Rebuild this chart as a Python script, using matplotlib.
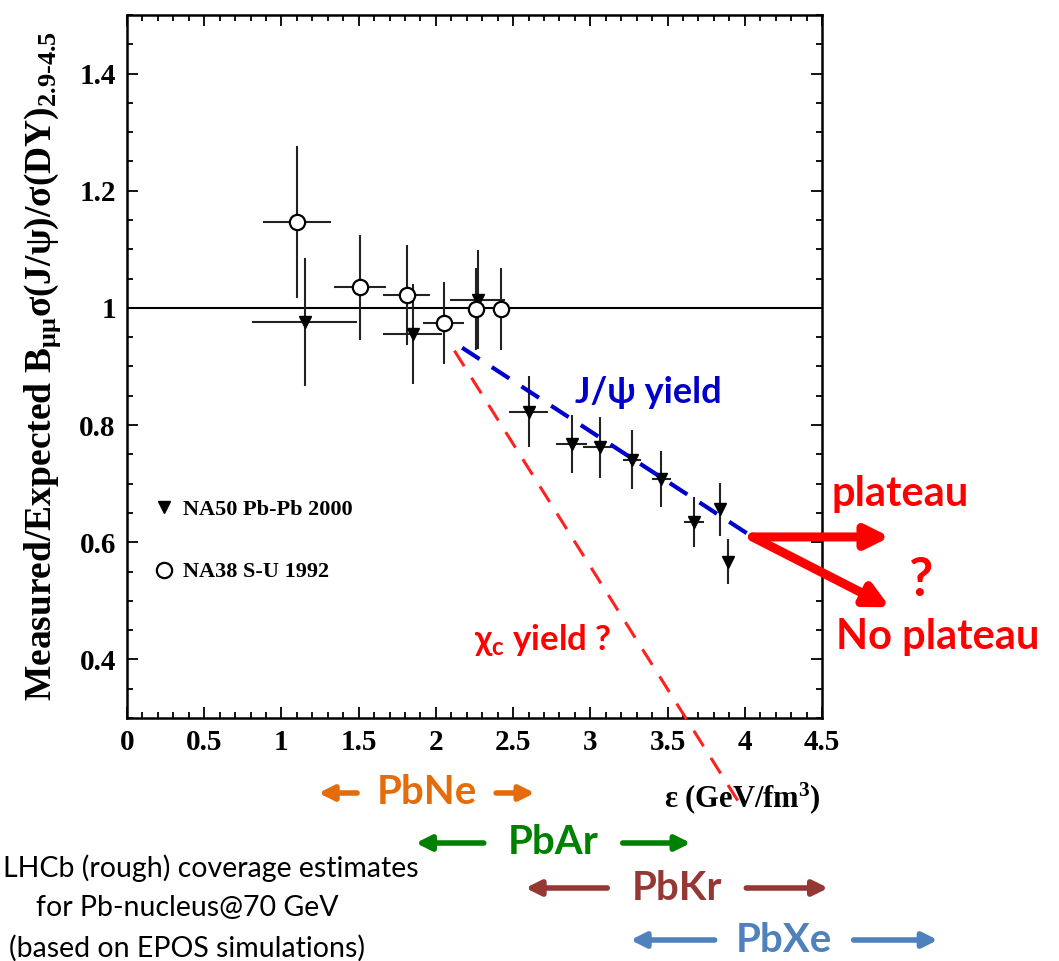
import matplotlib
matplotlib.use('Agg')
import matplotlib.pyplot as plt
import matplotlib.transforms as mtransforms
from matplotlib.ticker import MultipleLocator, FormatStrFormatter

plt.rcParams['mathtext.fontset'] = 'custom'
plt.rcParams['mathtext.rm'] = 'Liberation Serif:bold'
plt.rcParams['mathtext.bf'] = 'Liberation Serif:bold'
plt.rcParams['mathtext.it'] = 'Liberation Serif:bold'

# NA50 Pb-Pb 2000 (triangles)
na50_x = [1.15, 1.85, 2.27, 2.60, 2.88, 3.06, 3.27, 3.46, 3.67, 3.84, 3.89]
na50_y = [0.976, 0.955, 1.014, 0.823, 0.768, 0.762, 0.741, 0.708, 0.634, 0.656, 0.567]
na50_yerr = [0.11, 0.085, 0.085, 0.06, 0.05, 0.052, 0.05, 0.048, 0.043, 0.045, 0.038]
na50_xerr = [0.34, 0.19, 0.18, 0.125, 0.10, 0.11, 0.06, 0.06, 0.065, 0.0, 0.0]

# NA38 S-U 1992 (open circles)
na38_x = [1.10, 1.51, 1.81, 2.05, 2.26, 2.42]
na38_y = [1.147, 1.035, 1.022, 0.975, 0.998, 0.998]
na38_yerr = [0.13, 0.09, 0.085, 0.07, 0.07, 0.07]
na38_xerr = [0.22, 0.17, 0.15, 0.135, 0.0, 0.0]

# hand-drawn trend lines
jpsi_line_x = [2.17, 4.05]
jpsi_line_y = [0.932, 0.609]
chic_line_x = [2.12, 4.00]
chic_line_y = [0.927, 0.14]

# plateau / no plateau arrow ends
plateau_end = (4.94, 0.609)
noplateau_end = (4.94, 0.489)

# LHCb coverage ranges in epsilon
systems = ['PbNe', 'PbAr', 'PbKr', 'PbXe']
ranges = [(1.24, 2.64), (1.87, 3.65), (2.58, 4.54), (3.26, 5.25)]
sys_colors = ['#E46C0A', '#008000', '#953735', '#4F81BD']

fig = plt.figure(figsize=(10.59, 9.61), dpi=100)
ax = fig.add_axes([0.1199, 0.2529, 0.6563, 0.7315])

serif_b = dict(family='Liberation Serif', weight='bold')
sans = ['Lato', 'DejaVu Sans']

ax.axhline(1.0, color='black', lw=1.5, zorder=1)

ax.errorbar(na50_x, na50_y, yerr=na50_yerr, xerr=na50_xerr, fmt='none',
            ecolor='#222222', elinewidth=1.5, capsize=0, zorder=2)
ax.errorbar(na38_x, na38_y, yerr=na38_yerr, xerr=na38_xerr, fmt='none',
            ecolor='#222222', elinewidth=1.5, capsize=0, zorder=2)
ax.plot(na50_x, na50_y, 'v', color='black', ms=9, zorder=3, label='NA50 Pb-Pb 2000')
ax.plot(na38_x, na38_y, 'o', mfc='white', mec='black', mew=1.6, ms=11, zorder=3,
        label='NA38 S-U 1992')

ax.plot(jpsi_line_x, jpsi_line_y, color='#0000CC', lw=3, dashes=(5, 3.5), zorder=4)
ax.plot(chic_line_x, chic_line_y, color='#FF2020', lw=2.2, dashes=(6, 4.5), zorder=4,
        clip_on=False)

ax.text(3.375, 0.855, 'J/ψ yield', color='#0000CC', fontsize=26, weight='bold',
        family=sans, ha='center', va='center')
ax.text(2.69, 0.433, r'χ$_{\mathregular{c}}$ yield ?', color='#FF0000', fontsize=25,
        weight='bold', family=sans, ha='center', va='center')

# plateau arrows
for end in [plateau_end, noplateau_end]:
    ax.annotate('', xy=end, xytext=(jpsi_line_x[1], jpsi_line_y[1]),
                arrowprops=dict(arrowstyle='-|>', color='#FF0000', lw=6.5,
                                mutation_scale=34, shrinkA=0, shrinkB=0),
                annotation_clip=False)
ax.text(5.006, 0.682, 'plateau', color='#FF0000', fontsize=30, weight='bold',
        family=sans, ha='center', va='center')
ax.text(5.136, 0.535, '?', color='#FF0000', fontsize=38, weight='bold',
        family=sans, ha='center', va='center')
ax.text(5.246, 0.438, 'No plateau', color='#FF0000', fontsize=30, weight='bold',
        family=sans, ha='center', va='center')

ax.set_xlim(0, 4.5)
ax.set_ylim(0.3, 1.5)
ax.xaxis.set_major_locator(MultipleLocator(0.5))
ax.xaxis.set_minor_locator(MultipleLocator(0.1))
ax.yaxis.set_minor_locator(MultipleLocator(0.05))
ax.xaxis.set_major_formatter(FormatStrFormatter('%g'))
ax.yaxis.set_major_formatter(FormatStrFormatter('%g'))
ax.set_yticks([0.4, 0.6, 0.8, 1.0, 1.2, 1.4])
ax.tick_params(which='both', direction='in', top=True, right=True, width=1.3)
ax.tick_params(which='major', length=8, labelsize=21, pad=8)
ax.tick_params(which='minor', length=4)
for lab in ax.get_xticklabels() + ax.get_yticklabels():
    lab.set_fontfamily('Liberation Serif')
    lab.set_fontweight('bold')
for s in ax.spines.values():
    s.set_linewidth(1.8)

ax.set_ylabel(r'Measured/Expected B$_{\mathregular{\mu\mu}}$σ(J/ψ)/σ(DY)$_{\mathregular{2.9\text{-}4.5}}$',
              fontsize=27, **serif_b)
ax.yaxis.set_label_coords(-0.092, 0.5)
ax.set_xlabel(r'ε (GeV/fm$^{\mathregular{3}}$)', fontsize=22, **serif_b)
ax.xaxis.set_label_coords(0.885, -0.088)

ax.legend(loc='upper left', bbox_to_anchor=(0.01, 0.34), frameon=False,
          handlelength=0.9, handletextpad=0.4, labelspacing=1.9,
          prop=dict(family='Liberation Serif', weight='bold', size=16))

# coverage arrows below the axis
blend = mtransforms.blended_transform_factory(ax.transData, fig.transFigure)
ys = [1 - 793 / 961, 1 - 843 / 961, 1 - 888 / 961, 1 - 940 / 961]
gap = 0.45
for name, (lo, hi), c, y in zip(systems, ranges, sys_colors, ys):
    mid = (lo + hi) / 2
    ax.text(mid, y, name, transform=blend, color=c, fontsize=29, weight='bold',
            family=sans, ha='center', va='center')
    for inner, outer in [(mid - gap, lo), (mid + gap, hi)]:
        ax.annotate('', xy=(outer, y), xytext=(inner, y), xycoords=blend,
                    textcoords=blend,
                    arrowprops=dict(arrowstyle='-|>', color=c, lw=4,
                                    mutation_scale=22, shrinkA=0, shrinkB=0),
                    annotation_clip=False)

note = ['LHCb (rough) coverage estimates', 'for Pb-nucleus@70 GeV',
        '(based on EPOS simulations)']
fig.text(3 / 1059, 1 - 868 / 961, note[0], fontsize=20.5, family=sans,
         ha='left', va='center', color='black')
for i, line in enumerate(note[1:], start=1):
    fig.text(187 / 1059, 1 - (868 + 40 * i) / 961, line, fontsize=20.5, family=sans,
             ha='center', va='center', color='black')

fig.savefig('out.png', dpi=100)
